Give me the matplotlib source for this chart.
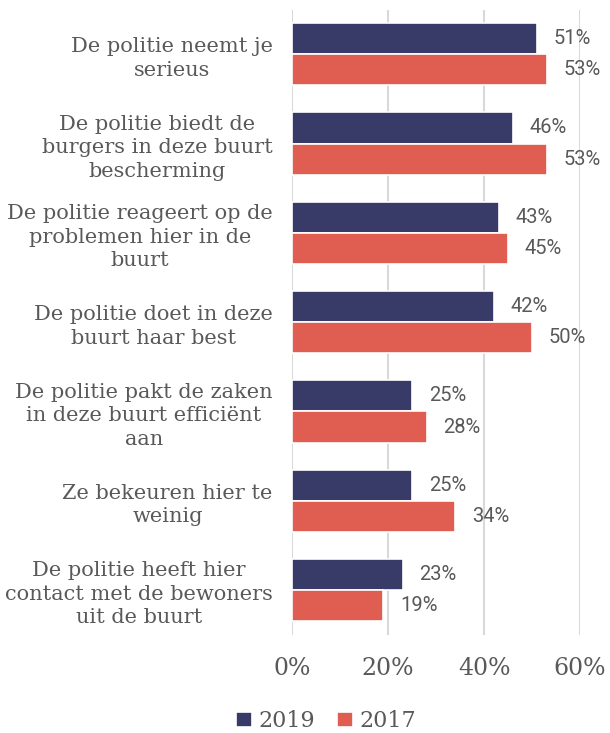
import numpy as np
import matplotlib.pyplot as plt

labels = [
    "De politie neemt je\nserieus",
    "De politie biedt de\nburgers in deze buurt\nbescherming",
    "De politie reageert op de\nproblemen hier in de\nbuurt",
    "De politie doet in deze\nbuurt haar best",
    "De politie pakt de zaken\nin deze buurt efficiënt\naan",
    "Ze bekeuren hier te\nweinig",
    "De politie heeft hier\ncontact met de bewoners\nuit de buurt",
]
v2019 = [51, 46, 43, 42, 25, 25, 23]
v2017 = [53, 53, 45, 50, 28, 34, 19]

navy = "#383B68"
red = "#E05D51"
grey = "#595959"

fig = plt.figure(figsize=(6.1, 7.33), dpi=100)
ax = fig.add_axes([0.479, 0.134, 0.472, 0.853])

y = np.arange(len(labels))
h = 0.35
ax.barh(y - h / 2, v2019, height=h, color=navy, edgecolor="white", linewidth=1.2, label="2019", zorder=2)
ax.barh(y + h / 2, v2017, height=h, color=red, edgecolor="white", linewidth=1.2, label="2017", zorder=2)

for yi, v in zip(y, v2019):
    ax.text(v + 3.5, yi - h / 2, f"{v}%", va="center", ha="left",
            fontsize=14.5, color=grey, family="Roboto")
for yi, v in zip(y, v2017):
    ax.text(v + 3.5, yi + h / 2, f"{v}%", va="center", ha="left",
            fontsize=14.5, color=grey, family="Roboto")

ax.set_xlim(0, 60)
ax.set_ylim(len(labels) - 0.5, -0.5)
ax.set_xticks([0, 20, 40, 60])
ax.set_xticklabels(["0%", "20%", "40%", "60%"], family="DejaVu Serif", fontsize=17, color=grey)
ax.set_yticks(y)
ax.set_yticklabels(labels, family="DejaVu Serif", fontsize=15, color=grey,
                   ha="right", multialignment="center", linespacing=1.3)
ax.tick_params(axis="y", length=0, pad=14)
ax.tick_params(axis="x", length=0, pad=16)
ax.grid(axis="x", color="#D9D9D9", linewidth=1.5, zorder=0)
ax.set_axisbelow(True)
for s in ax.spines.values():
    s.set_visible(False)

leg = fig.legend(loc="lower center", bbox_to_anchor=(0.535, -0.026), ncol=2, frameon=False,
                 handlelength=0.7, handleheight=0.7, handletextpad=0.3, columnspacing=1.0,
                 prop={"family": "DejaVu Serif", "size": 16})
for t in leg.get_texts():
    t.set_color(grey)

fig.savefig("out.png", dpi=100)
